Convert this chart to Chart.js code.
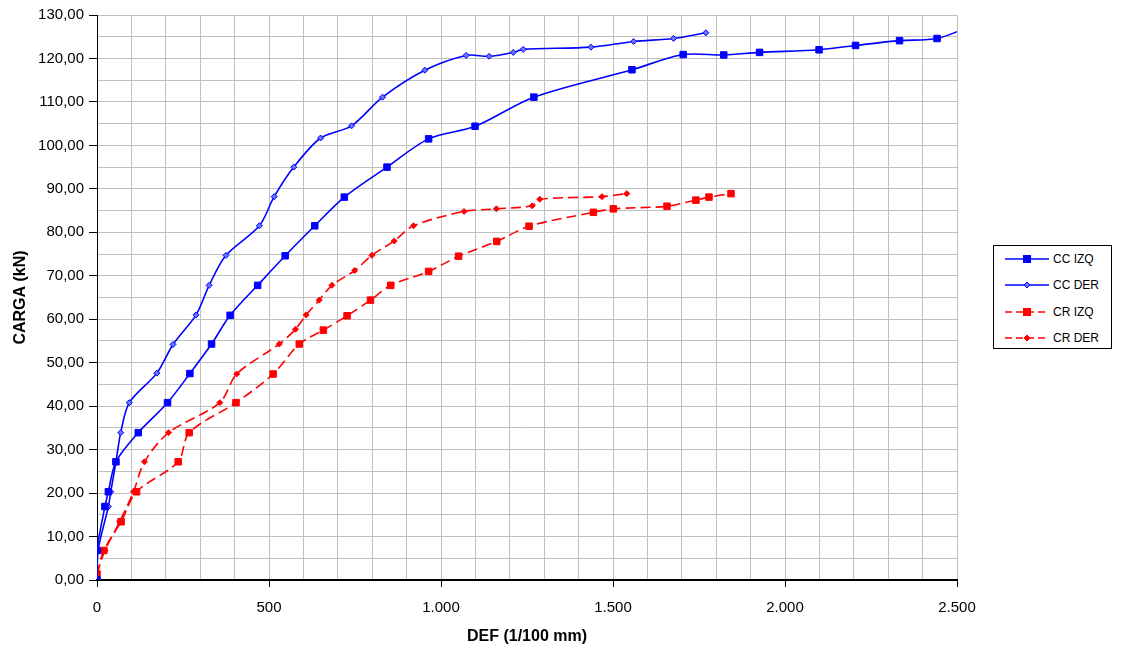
<!DOCTYPE html>
<html>
<head>
<meta charset="utf-8">
<script src="https://cdn.jsdelivr.net/npm/chart.js@4.4.0/dist/chart.umd.min.js"></script>
<style>
  html, body { margin: 0; padding: 0; background: #ffffff; }
  #wrap { position: relative; width: 1123px; height: 648px; }
  #c { position: absolute; left: 0; top: 0; }
  #legend {
    position: absolute; left: 993px; top: 245px; width: 119px; height: 104px;
    border: 1px solid #000; background: #fff; box-sizing: border-box;
    font-family: "Liberation Sans", Arial, sans-serif; font-size: 12px; color: #000;
  }
  .row { position: absolute; left: 11px; height: 14px; display: flex; align-items: center; }
  .row svg { display: block; }
  .row span { margin-left: 4px; white-space: nowrap; }
</style>
</head>
<body>
<div id="wrap">
  <canvas id="c" width="1123" height="648"></canvas>
  <div id="legend"></div>
</div>
<script>
// ---- data ----
const seriesNames = ["CC IZQ", "CC DER", "CR IZQ", "CR DER"];

const ccIzqX = [0, 0, 23, 33, 55, 120, 205, 270, 333, 387, 467, 547, 633, 719, 843, 964, 1099, 1270, 1555, 1704, 1822, 1926, 2099, 2205, 2333, 2442, 2540];
const ccIzqY = [0, 6.8, 16.9, 20.3, 27.2, 33.9, 40.8, 47.5, 54.3, 60.9, 67.8, 74.6, 81.5, 88.1, 95.0, 101.5, 104.4, 111.1, 117.4, 120.9, 120.8, 121.4, 122.0, 123.0, 124.1, 124.6, 127.4];

const ccDerX = [0, 3, 33, 40, 55, 69, 94, 174, 221, 288, 326, 375, 472, 515, 572, 650, 740, 830, 953, 1073, 1140, 1210, 1239, 1436, 1560, 1676, 1770];
const ccDerY = [0, 6.8, 16.9, 20.3, 27.2, 33.9, 40.8, 47.6, 54.2, 61.0, 67.8, 74.7, 81.5, 88.2, 95.0, 101.7, 104.5, 111.1, 117.3, 120.7, 120.5, 121.4, 122.1, 122.6, 123.9, 124.6, 125.9];

const crIzqX = [0, 20, 70, 115, 236, 268, 404, 512, 588, 658, 727, 795, 854, 964, 1051, 1162, 1256, 1443, 1501, 1657, 1741, 1779, 1843];
const crIzqY = [1.4, 6.8, 13.4, 20.3, 27.2, 33.9, 40.8, 47.4, 54.3, 57.5, 60.8, 64.4, 67.8, 71.0, 74.5, 77.9, 81.4, 84.6, 85.4, 86.0, 87.4, 88.1, 88.9];

const crDerX = [0, 23, 66, 106, 138, 208, 357, 406, 530, 577, 608, 646, 683, 749, 799, 864, 920, 1067, 1161, 1265, 1287, 1468, 1540];
const crDerY = [1.4, 6.8, 13.4, 20.3, 27.2, 33.9, 40.8, 47.4, 54.3, 57.7, 61.0, 64.4, 67.8, 71.2, 74.7, 78.0, 81.5, 84.8, 85.4, 86.1, 87.6, 88.2, 88.9];

const xMin = 0, xMax = 2500, xStep = 100, xLabelStep = 500;
const yMin = 0, yMax = 130, yStep = 5, yLabelStep = 10;
const xTitle = "DEF (1/100 mm)";
const yTitle = "CARGA (kN)";

// ---- build ----
function pts(xs, ys) { return xs.map((x, i) => ({ x: x, y: ys[i] })); }
const BLUE = "#0000ff", RED = "#ff0000";
const FONT = "'Liberation Sans', Arial, sans-serif";

const styles = [
  { color: BLUE, dash: [], pointStyle: "rect", radius: 4.6, fill: BLUE },
  { color: BLUE, dash: [], pointStyle: "rectRot", radius: 3, fill: "#6677ff" },
  { color: RED, dash: [10, 5], pointStyle: "rect", radius: 4.6, fill: RED },
  { color: RED, dash: [10, 5], pointStyle: "rectRot", radius: 3, fill: RED }
];
const allData = [pts(ccIzqX, ccIzqY), pts(ccDerX, ccDerY), pts(crIzqX, crIzqY), pts(crDerX, crDerY)];

const datasets = allData.map((d, i) => ({
  label: seriesNames[i],
  data: d,
  showLine: true,
  borderColor: styles[i].color,
  borderWidth: 1.6,
  borderDash: styles[i].dash,
  tension: 0.3,
  pointStyle: styles[i].pointStyle,
  pointRadius: styles[i].radius,
  pointHoverRadius: styles[i].radius,
  pointBackgroundColor: styles[i].fill,
  pointBorderColor: styles[i].color,
  pointBorderWidth: 1
}));

function fmtX(v) { return String(Math.round(v)).replace(/\B(?=(\d{3})+(?!\d))/g, "."); }
function fmtY(v) { return v.toFixed(2).replace(".", ","); }

new Chart(document.getElementById("c"), {
  type: "scatter",
  data: { datasets: datasets },
  options: {
    responsive: false,
    animation: false,
    devicePixelRatio: 1,
    layout: { padding: { left: 0, right: 166, top: 15, bottom: 0 } },
    plugins: { legend: { display: false }, tooltip: { enabled: false } },
    scales: {
      x: {
        type: "linear", min: xMin, max: xMax,
        afterFit: (s) => { s.height = 68; },
        ticks: {
          stepSize: xStep, autoSkip: false, maxRotation: 0, padding: 12,
          color: "#000", font: { family: FONT, size: 15 },
          callback: (v) => (v % xLabelStep === 0 ? fmtX(v) : "")
        },
        grid: {
          color: "#c0c0c0", lineWidth: 1, tickLength: 7,
          tickColor: (ctx) => (ctx.tick && ctx.tick.value % xLabelStep === 0 ? "#000" : "rgba(0,0,0,0)")
        },
        border: { color: "#000", width: 2 },
        title: {
          display: true, text: xTitle, color: "#000",
          font: { family: FONT, size: 16, weight: "bold" },
          padding: { top: 0, bottom: 2 }
        }
      },
      y: {
        type: "linear", min: yMin, max: yMax,
        afterFit: (s) => { s.width = 97; },
        ticks: {
          stepSize: yStep, autoSkip: false, padding: 5,
          color: "#000", font: { family: FONT, size: 15 },
          callback: (v) => (v % yLabelStep === 0 ? fmtY(v) : "")
        },
        grid: {
          color: "#c0c0c0", lineWidth: 1, tickLength: 8,
          tickColor: (ctx) => (ctx.tick && ctx.tick.value % yLabelStep === 0 ? "#000" : "rgba(0,0,0,0)")
        },
        border: { color: "#000", width: 1 },
        title: {
          display: true, text: yTitle, color: "#000",
          font: { family: FONT, size: 16, weight: "bold" },
          padding: { top: 11, bottom: 0 }
        }
      }
    }
  }
});

// ---- HTML legend ----
const legend = document.getElementById("legend");
const rowTops = [6, 32, 59, 85];
seriesNames.forEach((name, i) => {
  const st = styles[i];
  const row = document.createElement("div");
  row.className = "row";
  row.style.top = rowTops[i] + "px";
  let marker;
  if (st.pointStyle === "rect") {
    marker = `<rect x="18.5" y="3.5" width="7" height="7" fill="${st.fill}" stroke="${st.color}" stroke-width="1"/>`;
  } else {
    marker = `<polygon points="22,4 25,7 22,10 19,7" fill="${st.fill}" stroke="${st.color}" stroke-width="1"/>`;
  }
  const dash = st.dash.length ? `stroke-dasharray="7,4"` : "";
  row.innerHTML = `<svg width="44" height="14"><line x1="0" y1="7" x2="44" y2="7" stroke="${st.color}" stroke-width="1.6" ${dash}/>${marker}</svg><span>${name}</span>`;
  legend.appendChild(row);
});
</script>
</body>
</html>
